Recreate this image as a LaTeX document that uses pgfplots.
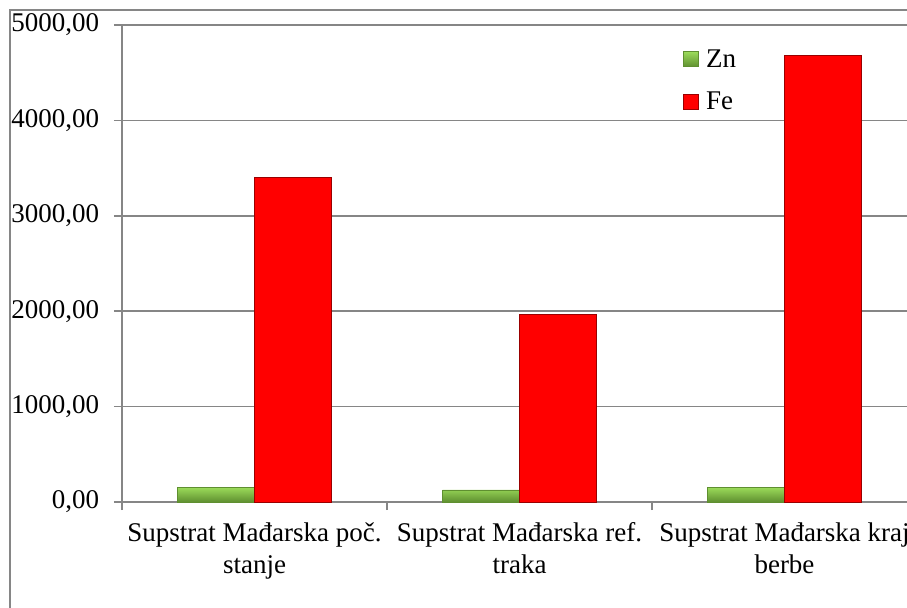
\documentclass[border=0pt]{standalone}
\usepackage{fontspec}
\setmainfont{Liberation Serif}
\usepackage{pgfplots}
\pgfplotsset{compat=1.18}
\definecolor{gridgray}{HTML}{868686}
\definecolor{znG}{HTML}{9BDB5A}
\definecolor{znD}{HTML}{5F8F30}
\definecolor{feR}{HTML}{FF0000}
\definecolor{feD}{HTML}{9A0000}
\begin{document}
\fontsize{13.5}{16}\selectfont
\begin{tikzpicture}
\useasboundingbox (0,0) rectangle (453.5pt,303.5pt);
\clip (0,0) rectangle (453.5pt,303.5pt);
\draw[gridgray, line width=0.8pt] (5pt,-20pt) rectangle (480pt,298.5pt);
\begin{axis}[
  at={(61pt,52.5pt)}, anchor=south west,
  scale only axis, width=397.5pt, height=238.5pt,
  axis x line=bottom, axis y line=left,
  axis line style={-, gridgray, line width=0.8pt},
  tick style={gridgray, line width=0.8pt},
  tick align=outside, major tick length=4pt,
  ymin=0, ymax=5000, ytick={0,1000,...,5000},
  ymajorgrids, grid style={gridgray, line width=0.8pt},
  yticklabel={\pgfmathprintnumber[fixed,fixed zerofill,precision=2,use comma,1000 sep={},assume math mode=true]{\tick}},
  yticklabel style={font=\fontsize{13.5}{16}\selectfont, xshift=-2.7pt},
  xmin=-0.5, xmax=2.5,
  xtick={-0.5,0.5,1.5,2.5},
  x tick label as interval,
  xticklabels={{Supstrat Mađarska poč.\\stanje},{Supstrat Mađarska ref.\\traka},{Supstrat Mađarska kraj\\berbe}},
  xticklabel style={font=\fontsize{13.5}{16}\selectfont, align=center, yshift=-1.5pt},
  legend style={at={(0.7057,0.958)}, anchor=north west, draw=none, fill=none,
    font=\fontsize{13.5}{16}\selectfont, row sep=6.5pt, inner sep=0pt,
    /tikz/every odd column/.append style={column sep=1.5pt}},
  legend cell align=left,
  legend image code/.code={\draw[#1, line width=0.3pt] (0pt,-3.2pt) rectangle (7.5pt,4.3pt);},
]
\addplot[ybar, bar width=0.29, bar shift=-0.145, draw=znD, line width=0.4pt, top color=znG, bottom color=znD]
  coordinates {(0,154) (1,126) (2,154)};
\addlegendentry{Zn}
\addplot[ybar, bar width=0.29, bar shift=0.145, draw=feD, line width=0.5pt, fill=feR]
  coordinates {(0,3400) (1,1965) (2,4685)};
\addlegendentry{Fe}
\end{axis}
\end{tikzpicture}
\end{document}
